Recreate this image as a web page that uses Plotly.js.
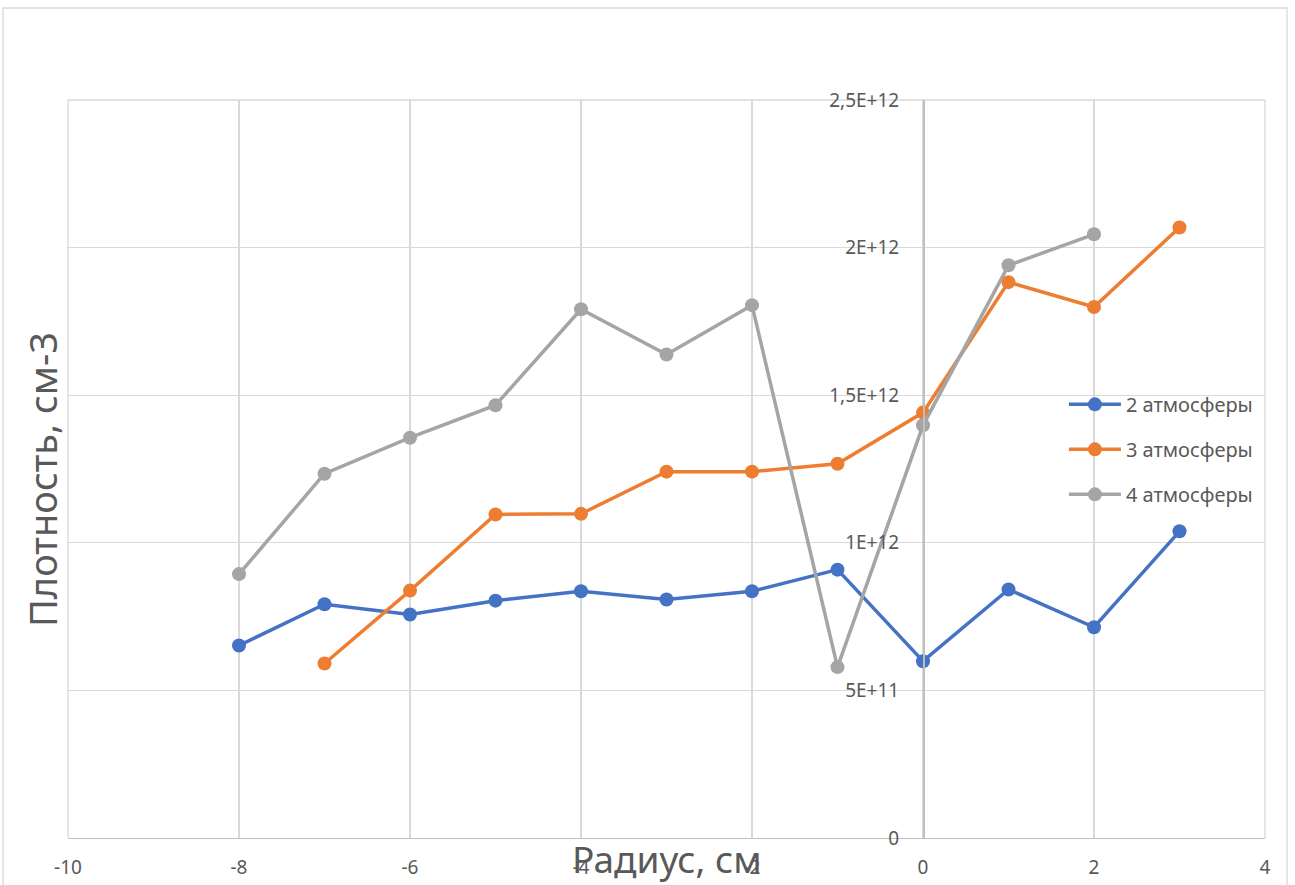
<!DOCTYPE html>
<html>
<head>
<meta charset="utf-8">
<script src="https://cdn.plot.ly/plotly-3.0.1.min.js"></script>
<style>html,body{margin:0;padding:0;background:#fff;}#chart{width:1295px;height:885px;}</style>
</head>
<body>
<div id="chart"></div>
<script>
const radius2 = [-8, -7, -6, -5, -4, -3, -2, -1, 0, 1, 2, 3];
const density2 = [0.652e12, 0.792e12, 0.757e12, 0.804e12, 0.836e12, 0.808e12, 0.836e12, 0.909e12, 0.599e12, 0.842e12, 0.714e12, 1.039e12];

const radius3 = [-7, -6, -5, -4, -3, -2, -1, 0, 1, 2, 3];
const density3 = [0.591e12, 0.838e12, 1.096e12, 1.098e12, 1.241e12, 1.241e12, 1.268e12, 1.441e12, 1.883e12, 1.799e12, 2.068e12];

const radius4 = [-8, -7, -6, -5, -4, -3, -2, -1, 0, 1, 2];
const density4 = [0.894e12, 1.234e12, 1.356e12, 1.466e12, 1.791e12, 1.638e12, 1.805e12, 0.579e12, 1.398e12, 1.940e12, 2.045e12];

const seriesNames = ['2 атмосферы', '3 атмосферы', '4 атмосферы'];
const seriesColors = ['#4472C4', '#ED7D31', '#A5A5A5'];

const xTickVals = [-10, -8, -6, -4, -2, 0, 2, 4];
const yTickVals = [0, 0.5e12, 1e12, 1.5e12, 2e12, 2.5e12];
const yTickText = ['0', '5E+11', '1E+12', '1,5E+12', '2E+12', '2,5E+12'];

const xTitle = 'Радиус, см';
const yTitle = 'Плотность, см-3';

const xs = [radius2, radius3, radius4];
const ys = [density2, density3, density4];

const traces = xs.map((x, i) => ({
  type: 'scatter',
  mode: 'lines+markers',
  x: x,
  y: ys[i],
  name: seriesNames[i],
  legendgroup: 'g' + i,
  line: {color: seriesColors[i], width: 3.5},
  marker: {color: seriesColors[i], size: 14},
  cliponaxis: false
}));

const fontFam = '"Noto Sans", "Open Sans", sans-serif';
const textColor = '#595959';
const gridColor = '#D9D9D9';

const layout = {
  width: 1295,
  height: 885,
  margin: {l: 68, r: 30, t: 100, b: 47},
  paper_bgcolor: '#ffffff',
  plot_bgcolor: '#ffffff',
  showlegend: true,
  font: {family: fontFam, color: textColor, size: 19},
  xaxis: {
    range: [-10, 4],
    tickvals: xTickVals,
    ticktext: xTickVals.map(String),
    showgrid: true,
    gridcolor: gridColor,
    gridwidth: 1.3,
    zeroline: false,
    showline: true,
    linecolor: '#BFBFBF',
    linewidth: 1.3,
    ticks: '',
    ticklabelstandoff: 12,
    tickfont: {size: 19, color: textColor, family: fontFam},
    fixedrange: true
  },
  yaxis: {
    range: [0, 2.5e12],
    tickvals: yTickVals,
    ticktext: yTickText,
    showgrid: true,
    gridcolor: gridColor,
    gridwidth: 1.3,
    zeroline: false,
    showline: true,
    linecolor: '#BFBFBF',
    linewidth: 1.5,
    anchor: 'free',
    position: 10 / 14,
    ticks: '',
    ticklabelstandoff: 20,
    tickfont: {size: 19, color: textColor, family: fontFam},
    fixedrange: true
  },
  legend: {
    x: 0.832,
    xanchor: 'left',
    y: 0.614,
    yanchor: 'top',
    bgcolor: 'rgba(0,0,0,0)',
    font: {size: 20, color: textColor, family: fontFam},
    tracegroupgap: 16,
    itemwidth: 52
  },
  annotations: [
    {
      text: xTitle,
      xref: 'paper', yref: 'paper',
      x: (667 - 68) / 1197, y: (838 - 858) / 738,
      xanchor: 'center', yanchor: 'middle',
      showarrow: false,
      font: {size: 37, color: textColor, family: fontFam}
    },
    {
      text: yTitle,
      xref: 'paper', yref: 'paper',
      x: (42 - 68) / 1197, y: (838 - 480) / 738,
      xanchor: 'center', yanchor: 'middle',
      textangle: -90,
      showarrow: false,
      font: {size: 38, color: textColor, family: fontFam}
    }
  ],
  shapes: [
    {
      type: 'rect', xref: 'paper', yref: 'paper', layer: 'below',
      x0: (3 - 68) / 1197, x1: (1287 - 68) / 1197,
      y0: (838 - 895) / 738, y1: (838 - 8) / 738,
      line: {color: gridColor, width: 1.3},
      fillcolor: 'rgba(0,0,0,0)'
    },
    {
      type: 'line', xref: 'paper', yref: 'paper', layer: 'below',
      x0: 0, x1: 0, y0: 0, y1: 1,
      line: {color: gridColor, width: 1.3}
    },
    {
      type: 'line', xref: 'paper', yref: 'paper', layer: 'below',
      x0: 1, x1: 1, y0: 0, y1: 1,
      line: {color: gridColor, width: 1.3}
    },
    {
      type: 'line', xref: 'paper', yref: 'paper', layer: 'below',
      x0: 0, x1: 1, y0: 1, y1: 1,
      line: {color: gridColor, width: 1.3}
    }
  ]
};

Plotly.newPlot('chart', traces, layout, {displayModeBar: false, staticPlot: true});
</script>
</body>
</html>
